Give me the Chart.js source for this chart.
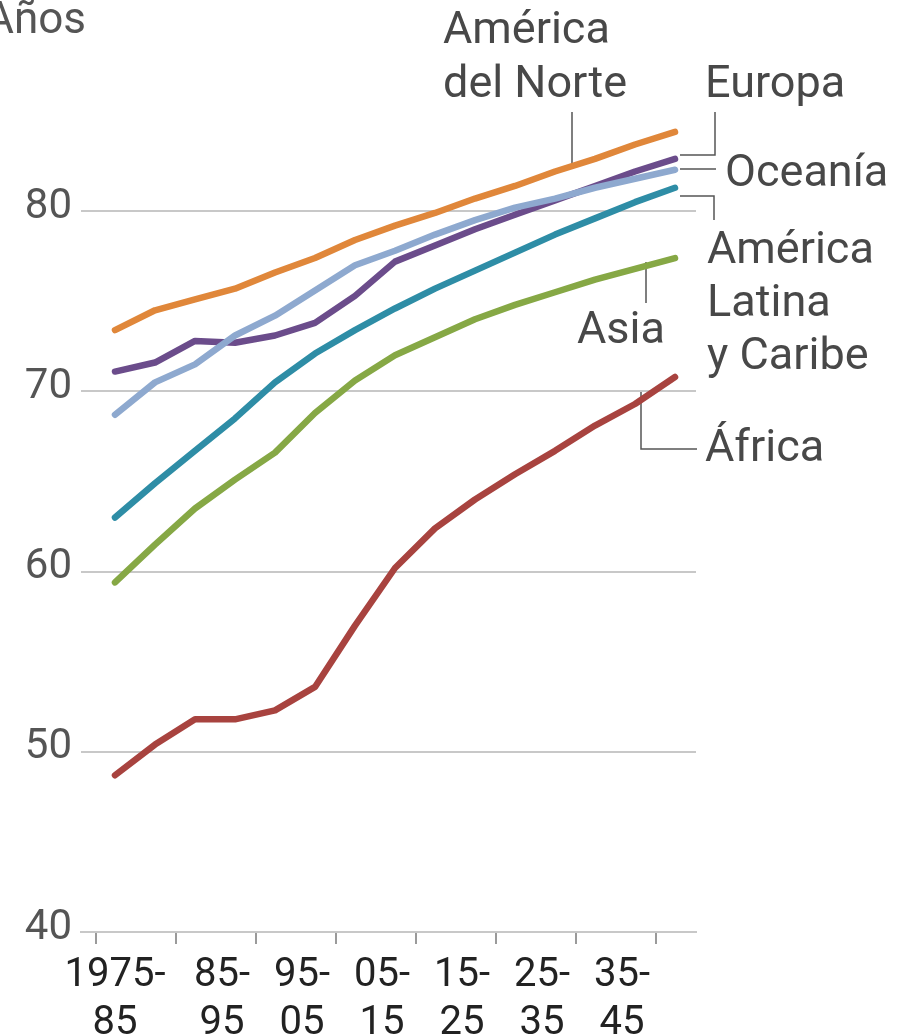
<!DOCTYPE html>
<html>
<head>
<meta charset="utf-8">
<script src="https://cdn.jsdelivr.net/npm/chart.js@4.4.1/dist/chart.umd.min.js"></script>
<style>
html, body { margin: 0; padding: 0; background: #fff; }
#wrap { width: 899px; height: 1036px; position: relative; }
</style>
</head>
<body>
<div id="wrap"><canvas id="vidaChart"></canvas></div>
<script>
// esperanza de vida por periodo quinquenal (1975-80 ... 2045-50)
const periodos = ['1975-80', '1980-85', '1985-90', '1990-95', '1995-00', '2000-05', '2005-10', '2010-15',
    '2015-20', '2020-25', '2025-30', '2030-35', '2035-40', '2040-45', '2045-50'];

const americaNorte = [73.4, 74.5, 75.1, 75.7, 76.6, 77.4, 78.4, 79.2, 79.9, 80.7, 81.4, 82.2, 82.9, 83.7, 84.4];
const europa = [71.1, 71.6, 72.8, 72.7, 73.1, 73.8, 75.3, 77.2, 78.1, 79.0, 79.8, 80.6, 81.4, 82.2, 82.9];
const oceania = [68.7, 70.5, 71.5, 73.1, 74.2, 75.6, 77.0, 77.8, 78.7, 79.5, 80.2, 80.7, 81.3, 81.8, 82.3];
const americaLatina = [63.0, 64.9, 66.7, 68.5, 70.5, 72.1, 73.4, 74.6, 75.7, 76.7, 77.7, 78.7, 79.6, 80.5, 81.3];
const asia = [59.4, 61.5, 63.5, 65.1, 66.6, 68.8, 70.6, 72.0, 73.0, 74.0, 74.8, 75.5, 76.2, 76.8, 77.4];
const africa = [48.7, 50.4, 51.8, 51.8, 52.3, 53.6, 57.0, 60.2, 62.4, 64.0, 65.4, 66.7, 68.1, 69.3, 70.8];

const etiquetasX = [['1975-', '85'], ['85-', '95'], ['95-', '05'], ['05-', '15'], ['15-', '25'], ['25-', '35'], ['35-', '45']];
const ticksY = [40, 50, 60, 70, 80];

const FUENTE = 'Roboto, "Liberation Sans", sans-serif';

// x en unidades de periodo (0 = 1975-80)
const marcasX = [0, 1, 2, 3, 4, 5, 6, 7].map(k => -0.475 + 2 * k);
const posEtiquetas = etiquetasX.map((e, k) => k === 0 ? 0 : 0.675 + 2 * k);

function serie(valores, color) {
    return {
        data: valores.map((v, i) => ({ x: i, y: v })),
        borderColor: color,
        borderWidth: 6.5,
        borderCapStyle: 'round',
        borderJoinStyle: 'round',
        pointRadius: 0,
        tension: 0,
        fill: false
    };
}

const notas = {
    id: 'notas',
    beforeDatasetsDraw(chart) {
        const ctx = chart.ctx;
        ctx.save();
        ctx.strokeStyle = '#555';
        ctx.lineWidth = 1.5;
        const lineas = [
            [[572, 112], [572, 165]],                 // America del Norte
            [[715, 112], [715, 155], [680, 155]],     // Europa
            [[680, 169], [716, 169]],                 // Oceania
            [[680, 196], [714, 196], [714, 220]],     // America Latina
            [[646, 262], [646, 303]],                 // Asia
            [[641, 392], [641, 449], [697, 449]]      // Africa
        ];
        lineas.forEach(l => {
            ctx.beginPath();
            ctx.moveTo(l[0][0], l[0][1]);
            for (let i = 1; i < l.length; i++) ctx.lineTo(l[i][0], l[i][1]);
            ctx.stroke();
        });
        ctx.restore();
    },
    afterDraw(chart) {
        const ctx = chart.ctx;
        ctx.save();
        ctx.fillStyle = '#484848';
        ctx.font = '45px ' + FUENTE;
        ctx.textAlign = 'left';
        ctx.textBaseline = 'alphabetic';
        ctx.fillText('América', 443, 43);
        ctx.fillText('del Norte', 443, 97);
        ctx.fillText('Europa', 705, 97);
        ctx.fillText('Oceanía', 725, 186);
        ctx.fillText('América', 707, 263);
        ctx.fillText('Latina', 707, 316);
        ctx.fillText('y Caribe', 707, 369);
        ctx.fillText('Asia', 577, 343);
        ctx.fillText('África', 705, 461);
        ctx.fillStyle = '#555';
        ctx.font = '44px ' + FUENTE;
        ctx.textAlign = 'right';
        ctx.fillText('Años', 86, 33);
        ctx.restore();
    }
};

const ctx = document.getElementById('vidaChart');

new Chart(ctx, {
    type: 'line',
    data: {
        datasets: [
            serie(africa, '#a8433f'),
            serie(asia, '#86a845'),
            serie(americaLatina, '#2e8da6'),
            serie(oceania, '#8ea9cf'),
            serie(europa, '#6b4c8b'),
            serie(americaNorte, '#e0873a')
        ]
    },
    options: {
        responsive: true,
        maintainAspectRatio: false,
        animation: false,
        layout: { padding: { top: 67, right: 203, left: 0, bottom: 0 } },
        plugins: {
            legend: { display: false },
            tooltip: { enabled: false }
        },
        scales: {
            x: {
                type: 'linear',
                min: -0.85,
                max: 14.525,
                afterBuildTicks: s => { s.ticks = marcasX.map(v => ({ value: v })); },
                ticks: { display: false },
                grid: { drawOnChartArea: false, drawTicks: true, tickLength: 12, color: '#9a9a9a', lineWidth: 2 },
                border: { color: '#c8c8c8', width: 2 },
                afterFit: s => { s.height = 12; }
            },
            y: {
                min: 40,
                max: 88,
                afterBuildTicks: s => { s.ticks = ticksY.map(v => ({ value: v })); },
                ticks: { color: '#555', font: { family: FUENTE, size: 42 }, padding: 9, labelOffset: -4 },
                grid: { color: '#c8c8c8', lineWidth: 2, drawTicks: false },
                border: { display: false },
                afterFit: s => { s.width = 81; }
            },
            x2: {
                type: 'linear',
                position: 'bottom',
                min: -0.85,
                max: 14.525,
                afterBuildTicks: s => { s.ticks = posEtiquetas.map(v => ({ value: v })); },
                ticks: {
                    color: '#222',
                    font: { family: FUENTE, size: 40, lineHeight: 1.2 },
                    padding: 0,
                    maxRotation: 0,
                    autoSkip: false,
                    callback: (v, i) => etiquetasX[i]
                },
                grid: { display: false },
                border: { display: false },
                afterFit: s => { s.height = 92; }
            }
        }
    },
    plugins: [notas]
});
</script>
</body>
</html>
